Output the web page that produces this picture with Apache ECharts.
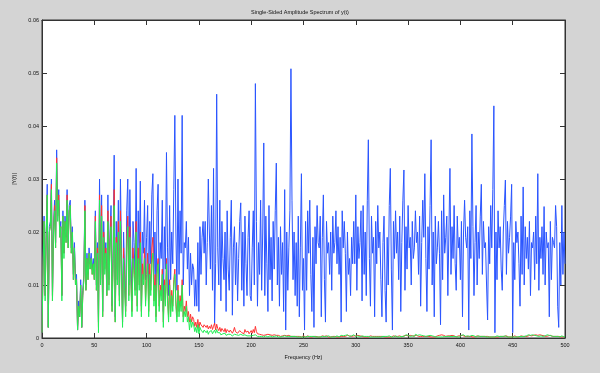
<!DOCTYPE html>
<html>
<head>
<meta charset="utf-8">
<script src="https://cdn.jsdelivr.net/npm/echarts@6/dist/echarts.min.js"></script>
<style>
html,body{margin:0;padding:0;background:#d4d4d4;}
#chart{width:600px;height:373px;}
</style>
</head>
<body>
<div id="chart"></div>
<script>
// Amplitudes in units of 1e-3 (|Y(f)| = value / 1000), one value per Hz from 0 to 500 Hz
const blueMilli = [
1,14,23,8,20,29,2,21,22,30,
8,21,26,18,35.5,24,28,20,22,8,
24,16,23,19,28,18,25,26,17,21,
12,18,11,12,1.5,7,4,11,2,9,
12,26,10,16,12,17,14,16,13,15,
12,24,10,18,3,30,12,27,5,22,
14,18,9,27,11,20,25,6,17,34.5,
4,22,13,26,8,30,16,3,20,12,
6,24,30,10,28,15,7,22,18,12,
32,9,24,14,29.6,6,20,16,26,11,
19,25,8,22,14,27,31,12,20,7,
24,29,10,18,15,26,5,21,13,35,
17,8,25,11,20,14,28,42,20,9,
30,12,24,16,42,10,18,17,22,13,
19,8,16,10,14,13,6,11,6,18,
5,21,12,19,22,16,22,10,18,30,
20,13,25,9,32,2.5,14,46,17,10,
26,7,22,15,11,20,5,24,13,9,
19,26,4.3,17,21,10,18,7,15,22,
25.5,9,20,6,23,14,8,19,24,8,
7,17,24,10,48,22,6,18,12,26,
9,20,36.8,8,23,14,5,25,11,19,
7,22,13,24,33,10,19,6,21,12,
18,5,28,1.5,20,9,17,24,50.8,26,
11,20,8,18,6,23,4,17,31,9,
15,1.5,22,9,24,16,26,12,5,19,
2,21,14,25,18,17,23,4,19,27,
11,3,22,16,18,12,20,9,23,16,
18,24,14,21,12,19,3,24,17,22,
16,5,20,12,15,8,19,14,22,14,
27,9,21,15,18,24,7,25,12,20,
8,26,37.4,15,6,23,16,19,4,22,
14,25,17,20,11,4,18,23,9,3,
19,10,25,32,13,1.5,22,15,24,16,
20,11,23,5,18,26,31.7,9,21,13,
25,17,19,10,22,15,17,24,18,20,
12,23,6,18,26,19,31,15,5,21,
13,25,37.4,10,20,4,23,14,17,22,
16,2.5,24,11,27,16,19,23,8,20,
32,12,21,15,25,14,9,23,17,19,
11,22,4,20,26,19,17,21,1.5,24,
15,38.5,21,8,18,25,10,20,15,23,
29,12,22,17,18,10,3.4,21,14,25,
17,28,43.8,1,20,11,24,17,21,13,
9,20,25,29.8,12,22,16,19,23,29,
1,18,11,22,18,20,14,6,23,12,
28.5,10,21,15,19,13,22,8,18,17,
20,11,23,14,31,9,19,15,21,12,
24.8,10,20,17,18,4,22,11,19,18,
17,25,21,6,2,18,10,25,12,20,
14
];

const redMilli = [
1,13,22,8,19,27,2,20,21,29,
7,20,25,17,34,23,27,19,21,8,
23,16,22,18,27,17,24,25,16,20,
11,17,10,11,1.5,6,4,10,2,8,
11,25,9,15,11,16,13,15,12,14,
11,23,9,17,2,27,11,25,4,20,
13,17,8,24,10,18,23,5,15,28,
3,19,11,22,7,24,13,3,17,10,
5,19,23,8,21,11,5,17,13,9,
22,6,17,10,20,5,14,11,17,7,
12,16,5,14,9,17,19,7,12,4,
13,15,6,10,8,13,3,11,7,15,
8,4,11,5,9,6,11,13,7,4,
10,5,8,6,11,4,6,5,7,4,
5,3,4.5,3,4,3.5,2.2,3,2,3.5,
1.8,3,2.5,2.8,2,2.5,2.8,2,2.4,1.7,
2.2,1.8,2.5,1.6,2.2,2.8,1.5,2.6,1.8,1.4,
2,1.2,1.8,1.5,1.2,1.8,1,1.6,1.3,1.1,
1.5,1.8,0.9,1.3,2,1.2,1.5,0.9,1.2,1.4,
1.6,1,1.2,0.8,1.6,1.1,0.9,1.3,0.8,1.1,
1.4,0.9,1.6,1,2.2,1.2,0.8,1,0.7,0.9,
0.6,0.8,0.5,0.7,0.6,0.5,0.7,0.4,0.6,0.5,
0.5,0.4,0.6,0.4,0.5,0.3,0.5,0.4,0.3,0.5,
0.4,0.3,0.5,0.3,0.4,0.3,0.5,0.4,0.3,0.4,
0.3,0.4,0.3,0.5,0.3,0.4,0.3,0.4,0.2,0.3,
0.4,0.3,0.2,0.3,0.4,0.3,0.2,0.3,0.2,0.4,
0.3,0.2,0.3,0.4,0.2,0.3,0.2,0.3,0.4,0.2,
0.3,0.2,0.4,0.3,0.2,0.3,0.2,0.4,0.3,0.2,
0.3,0.4,0.2,0.3,0.2,0.4,0.3,0.5,0.3,0.4,
0.3,0.4,0.5,0.3,0.4,0.6,0.3,0.5,0.4,0.3,
0.4,0.3,0.5,0.3,0.4,0.2,0.3,0.4,0.2,0.3,
0.2,0.3,0.2,0.3,0.4,0.2,0.3,0.2,0.3,0.2,
0.3,0.2,0.3,0.2,0.3,0.2,0.3,0.4,0.2,0.3,
0.2,0.3,0.2,0.3,0.2,0.3,0.4,0.2,0.3,0.2,
0.3,0.2,0.4,0.3,0.2,0.3,0.4,0.3,0.5,0.3,
0.4,0.3,0.5,0.3,0.4,0.6,0.4,0.3,0.5,0.4,
0.3,0.5,0.3,0.4,0.3,0.5,0.3,0.4,0.3,0.2,
0.3,0.4,0.2,0.3,0.2,0.3,0.2,0.3,0.4,0.3,
0.5,0.4,0.6,0.3,0.5,0.4,0.3,0.5,0.4,0.3,
0.4,0.3,0.5,0.3,0.4,0.3,0.2,0.3,0.4,0.3,
0.4,0.3,0.5,0.4,0.3,0.5,0.3,0.4,0.3,0.5,
0.3,0.4,0.2,0.3,0.2,0.3,0.4,0.2,0.3,0.2,
0.3,0.2,0.3,0.2,0.3,0.2,0.3,0.4,0.2,0.3,
0.2,0.3,0.2,0.3,0.2,0.3,0.2,0.4,0.3,0.2,
0.3,0.2,0.3,0.2,0.4,0.3,0.2,0.3,0.2,0.3,
0.2,0.3,0.4,0.3,0.2,0.3,0.2,0.3,0.4,0.3,
0.3,0.4,0.3,0.5,0.3,0.4,0.5,0.3,0.4,0.3,
0.5,0.4,0.6,0.3,0.5,0.4,0.6,0.4,0.5,0.3,
0.4,0.6,0.3,0.5,0.4,0.3,0.5,0.4,0.3,0.4,
0.3,0.4,0.3,0.2,0.3,0.4,0.2,0.3,0.2,0.3,
0.3
];

const greenMilli = [
1,13,22,7,19,27,2,20,21,28,
7,20,24,17,33,22,26,19,21,7,
23,15,22,18,26,17,24,25,16,20,
11,17,10,11,1.5,6,4,10,2,8,
11,24,9,15,11,16,13,15,12,14,
11,22,9,16,1,26,10,23,4,19,
12,16,8,22,9,17,21,5,14,25,
3,18,10,20,6,22,12,2,15,9,
4,17,21,7,19,10,4,15,12,8,
20,5,15,9,18,4,12,10,15,6,
11,14,4,12,8,14,16,6,10,3,
12,14,5,9,7,12,2,10,6,14,
7,3,10,4,8,5,10,12,6,3,
9,4,7,5,10,3,5,4,6,3,
4,1.5,3.5,2,3,2.5,1.2,2,1,2.5,
0.8,2,1.5,1.8,1,1.5,1.8,1,1.4,0.7,
1.2,1,1.4,0.8,1.1,1.5,0.9,1.6,1,0.7,
1,0.6,0.9,0.8,0.6,0.9,0.5,0.8,0.7,0.5,
0.7,0.8,0.4,0.6,0.7,0.5,0.6,0.4,0.5,0.6,
0.7,0.4,0.5,0.3,0.6,0.5,0.4,0.5,0.4,0.5,
0.4,0.3,0.5,0.3,0.6,0.4,0.3,0.4,0.3,0.5,
0.3,0.4,0.2,0.3,0.4,0.3,0.2,0.3,0.4,0.3,
0.2,0.3,0.3,0.2,0.4,0.3,0.2,0.3,0.2,0.3,
0.3,0.2,0.4,0.2,0.3,0.2,0.3,0.4,0.3,0.2,
0.3,0.2,0.3,0.3,0.2,0.4,0.2,0.3,0.2,0.3,
0.2,0.3,0.2,0.4,0.3,0.2,0.3,0.2,0.3,0.2,
0.3,0.4,0.2,0.3,0.2,0.3,0.2,0.4,0.3,0.2,
0.3,0.2,0.3,0.2,0.4,0.3,0.2,0.3,0.2,0.3,
0.2,0.3,0.4,0.3,0.2,0.3,0.5,0.3,0.4,0.3,
0.5,0.3,0.6,0.4,0.3,0.5,0.4,0.3,0.6,0.4,
0.3,0.5,0.4,0.3,0.2,0.3,0.4,0.2,0.3,0.2,
0.3,0.2,0.3,0.4,0.2,0.3,0.2,0.3,0.2,0.3,
0.2,0.3,0.2,0.3,0.2,0.4,0.3,0.2,0.3,0.2,
0.3,0.2,0.4,0.3,0.2,0.3,0.2,0.3,0.4,0.3,
0.2,0.3,0.2,0.4,0.3,0.5,0.3,0.4,0.6,0.3,
0.5,0.4,0.3,0.6,0.4,0.5,0.3,0.7,0.4,0.5,
0.3,0.6,0.4,0.5,0.3,0.4,0.6,0.3,0.5,0.4,
0.3,0.5,0.3,0.4,0.2,0.3,0.4,0.2,0.3,0.2,
0.3,0.2,0.3,0.2,0.4,0.3,0.2,0.3,0.2,0.3,
0.2,0.3,0.4,0.3,0.5,0.3,0.4,0.2,0.3,0.2,
0.3,0.5,0.3,0.6,0.4,0.3,0.5,0.4,0.6,0.3,
0.4,0.5,0.3,0.4,0.3,0.2,0.3,0.4,0.2,0.3,
0.2,0.3,0.2,0.3,0.4,0.2,0.3,0.2,0.3,0.2,
0.3,0.2,0.3,0.2,0.3,0.4,0.2,0.3,0.2,0.3,
0.2,0.3,0.2,0.4,0.3,0.2,0.3,0.2,0.3,0.2,
0.3,0.2,0.3,0.2,0.3,0.2,0.4,0.3,0.2,0.3,
0.4,0.3,0.5,0.4,0.3,0.6,0.4,0.5,0.3,0.6,
0.4,0.5,0.7,0.4,0.6,0.3,0.5,0.4,0.6,0.3,
0.5,0.4,0.3,0.6,0.4,0.5,0.3,0.4,0.5,0.3,
0.4,0.3,0.5,0.3,0.4,0.2,0.3,0.4,0.3,0.2,
0.3
];

const xTicks = [0, 50, 100, 150, 200, 250, 300, 350, 400, 450, 500];
const yTicks = [0, 0.01, 0.02, 0.03, 0.04, 0.05, 0.06];
const titleText = 'Single-Sided Amplitude Spectrum of y(t)';
const xName = 'Frequency (Hz)';
const yName = '|Y(f)|';

function pairs(arr) { return arr.map((v, i) => [i, v / 1000]); }

const chart = echarts.init(document.getElementById('chart'), null, {renderer: 'canvas'});
const fontFam = '"Liberation Sans", Arial, sans-serif';
const lab = {fontSize: 5.5, color: '#111', fontFamily: fontFam};
const tick = {show: true, inside: true, length: 5, lineStyle: {color: '#333', width: 1}};
const line = {show: true, onZero: false, lineStyle: {color: '#333', width: 1}};
const xBase = {type: 'value', min: xTicks[0], max: xTicks[xTicks.length - 1], interval: 50, splitLine: {show: false}};
const yBase = {type: 'value', min: yTicks[0], max: yTicks[yTicks.length - 1], interval: 0.01, splitLine: {show: false}};

chart.setOption({
  animation: false,
  backgroundColor: '#d4d4d4',
  title: {text: titleText, left: 'center', top: 4, textStyle: {fontSize: 5.5, fontWeight: 'normal', color: '#111', fontFamily: fontFam}},
  grid: {left: 42, right: 35, top: 20, bottom: 35, show: true, backgroundColor: '#ffffff', borderColor: '#333', borderWidth: 1},
  xAxis: [
    Object.assign({}, xBase, {position: 'bottom', axisLine: line, axisTick: tick,
      axisLabel: Object.assign({margin: 4, formatter: v => String(v)}, lab),
      name: xName, nameLocation: 'middle', nameGap: 16, nameTextStyle: lab}),
    Object.assign({}, xBase, {position: 'top', axisLine: line, axisTick: tick, axisLabel: {show: false}})
  ],
  yAxis: [
    Object.assign({}, yBase, {position: 'left', axisLine: line, axisTick: tick,
      axisLabel: Object.assign({margin: 3, formatter: v => v === 0 ? '0' : v.toFixed(2)}, lab),
      name: yName, nameLocation: 'middle', nameGap: 19, nameTextStyle: lab}),
    Object.assign({}, yBase, {position: 'right', axisLine: line, axisTick: tick, axisLabel: {show: false}})
  ],
  series: [
    {type: 'line', data: pairs(blueMilli), showSymbol: false, symbol: 'none', lineStyle: {color: '#2a55ff', width: 1}, silent: true, z: 2},
    {type: 'line', data: pairs(redMilli), showSymbol: false, symbol: 'none', lineStyle: {color: '#ff3333', width: 1}, silent: true, z: 3},
    {type: 'line', data: pairs(greenMilli), showSymbol: false, symbol: 'none', lineStyle: {color: '#22ee55', width: 1}, silent: true, z: 4}
  ]
});
</script>
</body>
</html>
